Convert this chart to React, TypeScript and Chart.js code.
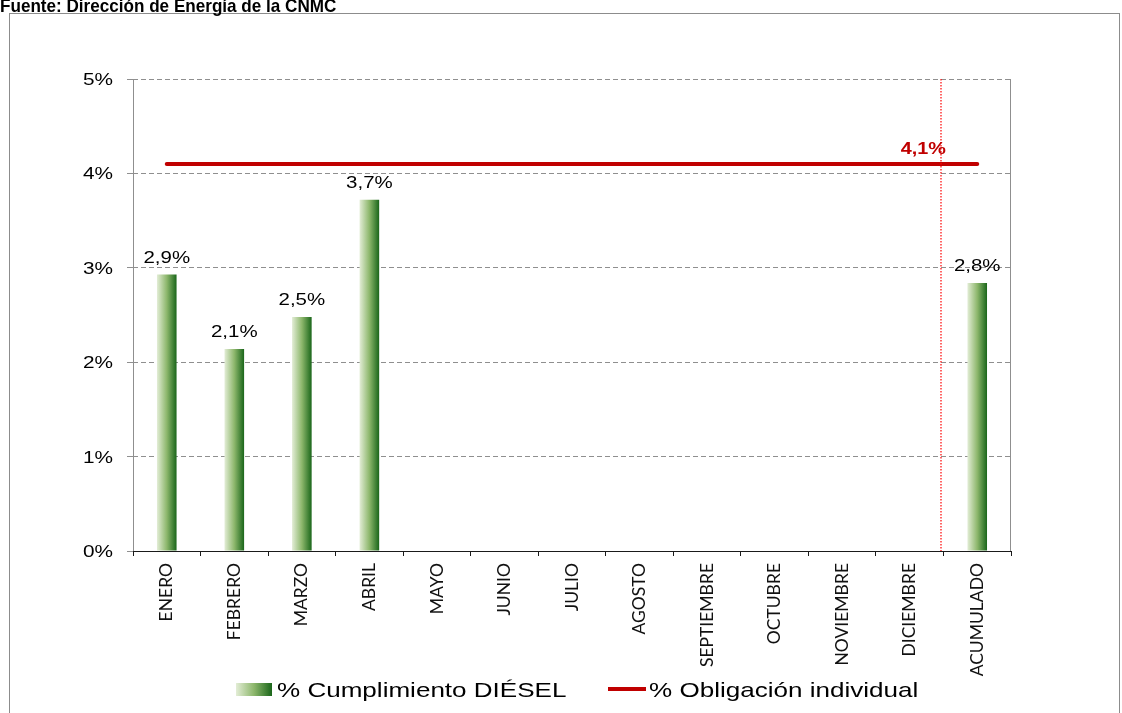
import React, { useEffect, useRef } from "react";
import { Chart, registerables } from "chart.js";

Chart.register(...registerables);

// ---------- data ----------
const categories = [
  "ENERO", "FEBRERO", "MARZO", "ABRIL", "MAYO", "JUNIO", "JULIO",
  "AGOSTO", "SEPTIEMBRE", "OCTUBRE", "NOVIEMBRE", "DICIEMBRE", "ACUMULADO",
];
const cumplimientoDiesel: (number | null)[] = [
  2.93, 2.14, 2.48, 3.72, null, null, null, null, null, null, null, null, 2.84,
];
const obligacionIndividual = [4.1, 4.1, 4.1, 4.1, 4.1, 4.1, 4.1, 4.1, 4.1, 4.1, 4.1, 4.1, 4.1];
const yTickValues = [0, 1, 2, 3, 4, 5];
const seriesNames = ["% Cumplimiento DIÉSEL", "% Obligación individual"];
const sourceTitle = "Fuente: Dirección de Energía de la CNMC";
const dividerPosition = 11.47; // between DICIEMBRE and ACUMULADO

// ---------- layout / style ----------
const W = 1122;
const H = 713;
const AREA = { left: 133, top: 79, right: 1011, bottom: 551 };
const X_AXIS_H = 130;
const BAR_PCT = 0.29;
const RED = "#C00000";
const GRID = "#8f8f8f";
const SX = 1.24; // horizontal text stretch of the original picture

const fmt = (v: number) => v.toFixed(1).replace(".", ",") + "%";

function stretchedText(
  ctx: CanvasRenderingContext2D,
  text: string,
  x: number,
  y: number,
  font: string,
  color: string,
  align: CanvasTextAlign,
  sx: number
) {
  ctx.save();
  ctx.font = font;
  ctx.fillStyle = color;
  ctx.textAlign = align;
  ctx.textBaseline = "alphabetic";
  ctx.translate(x, y);
  ctx.scale(sx, 1);
  ctx.fillText(text, 0, 0);
  ctx.restore();
}

function barGradient(ctx: CanvasRenderingContext2D, x0: number, x1: number) {
  const g = ctx.createLinearGradient(x0, 0, x1, 0);
  g.addColorStop(0, "#e3edd6");
  g.addColorStop(0.5, "#8db76c");
  g.addColorStop(1, "#1a661a");
  return g;
}

const decorPlugin = {
  id: "decor",
  beforeDraw(chart: any) {
    const ctx: CanvasRenderingContext2D = chart.ctx;
    ctx.save();
    ctx.fillStyle = "#ffffff";
    ctx.fillRect(0, 0, W, H);
    // outer frame
    ctx.strokeStyle = "#8c8c8c";
    ctx.lineWidth = 1;
    ctx.strokeRect(9.5, 13.5, 1110, 720);
    ctx.restore();
    // title (partly cut at the top)
    stretchedText(ctx, sourceTitle, 0, 12, "bold 19px 'Liberation Sans', Arial, sans-serif", "#000", "left", 0.9);
  },
  beforeDatasetsDraw(chart: any) {
    const ctx: CanvasRenderingContext2D = chart.ctx;
    const ys = chart.scales.y;
    const ca = chart.chartArea;
    ctx.save();
    // y axis line (gray) and right border
    ctx.strokeStyle = GRID;
    ctx.lineWidth = 1;
    ctx.setLineDash([]);
    ctx.beginPath();
    ctx.moveTo(Math.round(ca.left) + 0.5, ca.top);
    ctx.lineTo(Math.round(ca.left) + 0.5, ca.bottom);
    ctx.moveTo(Math.round(ca.right) - 0.5, ca.top);
    ctx.lineTo(Math.round(ca.right) - 0.5, ca.bottom);
    ctx.stroke();
    ctx.restore();
    // y tick labels
    for (const v of yTickValues) {
      const y = ys.getPixelForValue(v);
      stretchedText(ctx, v + "%", ca.left - 20, y + 6, "16.5px 'Liberation Sans', Arial, sans-serif", "#000", "right", 1.26);
    }
  },
  afterDatasetsDraw(chart: any) {
    const ctx: CanvasRenderingContext2D = chart.ctx;
    const ca = chart.chartArea;
    const xs = chart.scales.x;
    ctx.save();
    // dotted red divider
    const dx = Math.round(xs.getPixelForValue(dividerPosition));
    ctx.strokeStyle = "#ff0000";
    ctx.lineWidth = 1.2;
    ctx.setLineDash([1.5, 1.5]);
    ctx.beginPath();
    ctx.moveTo(dx, ca.top);
    ctx.lineTo(dx, ca.bottom + 2);
    ctx.stroke();
    ctx.setLineDash([]);
    // x axis line
    ctx.strokeStyle = "#1a1a1a";
    ctx.lineWidth = 1;
    ctx.beginPath();
    ctx.moveTo(ca.left, Math.round(ca.bottom) + 0.5);
    ctx.lineTo(ca.right, Math.round(ca.bottom) + 0.5);
    ctx.stroke();
    ctx.restore();
    // bar value labels
    const barMeta = chart.getDatasetMeta(0);
    barMeta.data.forEach((el: any, i: number) => {
      const v = cumplimientoDiesel[i];
      if (v === null || v === undefined) return;
      stretchedText(ctx, fmt(v), el.x, el.y - 11.5, "16.5px 'Liberation Sans', Arial, sans-serif", "#000", "center", SX);
    });
    // line label on last point
    const lineMeta = chart.getDatasetMeta(1);
    const last = lineMeta.data[lineMeta.data.length - 1];
    if (last) {
      stretchedText(ctx, fmt(obligacionIndividual[obligacionIndividual.length - 1]), last.x - 54, last.y - 10, "bold 16.5px 'Liberation Sans', Arial, sans-serif", RED, "center", 1.2);
    }
  },
  afterDraw(chart: any) {
    const ctx: CanvasRenderingContext2D = chart.ctx;
    // legend
    ctx.save();
    ctx.fillStyle = barGradient(ctx, 236, 272);
    ctx.fillRect(236, 683, 36, 13);
    ctx.strokeStyle = RED;
    ctx.lineWidth = 4;
    ctx.beginPath();
    ctx.moveTo(608, 689);
    ctx.lineTo(646, 689);
    ctx.stroke();
    ctx.restore();
    stretchedText(ctx, seriesNames[0], 277, 697, "21px 'Liberation Sans', Arial, sans-serif", "#000", "left", SX);
    stretchedText(ctx, seriesNames[1], 649, 697, "21px 'Liberation Sans', Arial, sans-serif", "#000", "left", SX);
  },
};

export default function App() {
  const ref = useRef<HTMLCanvasElement | null>(null);

  useEffect(() => {
    const canvas = ref.current;
    if (!canvas) return;
    const chart = new Chart(canvas, {
      type: "bar",
      data: {
        labels: categories,
        datasets: [
          {
            type: "bar",
            label: seriesNames[0],
            data: cumplimientoDiesel as any,
            barPercentage: BAR_PCT,
            categoryPercentage: 1,
            borderWidth: 0,
            backgroundColor: (c: any) => {
              const ch = c.chart;
              const xs = ch.scales && ch.scales.x;
              if (!xs || typeof c.dataIndex !== "number") return "#6fa55a";
              const cx = xs.getPixelForValue(c.dataIndex);
              const half = ((xs.width / categories.length) * BAR_PCT) / 2;
              if (!isFinite(cx) || !isFinite(half) || half <= 0) return "#6fa55a";
              return barGradient(ch.ctx, cx - half, cx + half);
            },
            order: 2,
          },
          {
            type: "line",
            label: seriesNames[1],
            data: obligacionIndividual,
            borderColor: RED,
            backgroundColor: RED,
            borderWidth: 4,
            borderCapStyle: "round",
            pointRadius: 0,
            fill: false,
            tension: 0,
            order: 1,
          },
        ],
      },
      options: {
        responsive: false,
        animation: false,
        events: [],
        layout: {
          padding: {
            left: 0,
            top: AREA.top,
            right: W - AREA.right,
            bottom: H - AREA.bottom - X_AXIS_H,
          },
        },
        plugins: {
          legend: { display: false },
          title: { display: false },
          tooltip: { enabled: false },
        },
        scales: {
          x: {
            offset: true,
            grid: {
              display: true,
              drawOnChartArea: false,
              offset: true,
              color: "#1a1a1a",
              tickColor: "#1a1a1a",
              tickLength: 5,
            },
            border: { display: false },
            ticks: {
              autoSkip: false,
              maxRotation: 90,
              minRotation: 90,
              padding: 7,
              color: "#111",
              font: { family: "Lato, 'Liberation Sans', sans-serif", size: 17.5 },
            },
            afterFit: (s: any) => {
              s.height = X_AXIS_H;
            },
          },
          y: {
            min: 0,
            max: 5,
            ticks: { stepSize: 1, display: false },
            grid: {
              color: (c: any) => (c.tick && c.tick.value === 0 ? "rgba(0,0,0,0)" : GRID),
              lineWidth: 1,
              tickColor: GRID,
              tickLength: 6,
              tickBorderDash: [],
            },
            border: { display: false, dash: [5, 3] },
            afterFit: (s: any) => {
              s.width = AREA.left;
            },
          },
        },
      },
      plugins: [decorPlugin],
    } as any);
    return () => chart.destroy();
  }, []);

  return (
    <div style={{ position: "fixed", left: 0, top: 0, width: W, height: H, background: "#fff" }}>
      <canvas ref={ref} width={W} height={H} style={{ width: W, height: H, display: "block" }} />
    </div>
  );
}
